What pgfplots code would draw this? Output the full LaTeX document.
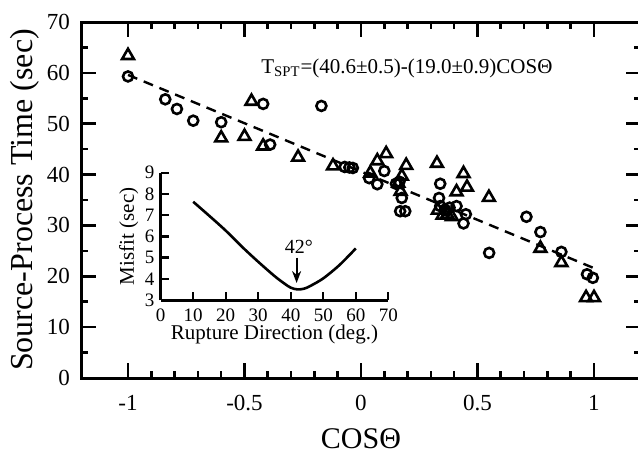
\documentclass[border=0pt]{standalone}
\usepackage{fontspec}
\setmainfont{Liberation Serif}
\usepackage{pgfplots}
\pgfplotsset{compat=1.18}
\usetikzlibrary{arrows.meta}

\begin{document}
\begin{tikzpicture}
% main panel
\begin{axis}[
    at={(0pt,0pt)}, anchor=south west,
    scale only axis, width=279.6pt, height=178pt,
    xmin=-1.2, xmax=1.2, ymin=0, ymax=70,
    xtick={-1,-0.5,0,0.5,1},
    xticklabels={-1,-0.5,0,0.5,1},
    minor x tick num=4,
    ytick={0,10,...,70},
    minor y tick num=1,
    tick align=inside,
    major tick length=7.5pt, minor tick length=3.5pt,
    every tick/.style={black, line width=1.3pt},
    axis line style={line width=1.5pt},
    /pgf/number format/assume math mode=true,
    xticklabel style={font=\fontsize{11.5}{13}\selectfont, anchor=center, yshift=-12.5pt},
    yticklabel style={font=\fontsize{11.5}{13}\selectfont, anchor=east, inner sep=0pt, xshift=-5.5pt},
    xlabel={COSΘ}, ylabel={Source-Process Time (sec)},
    xlabel style={font=\fontsize{15}{17}\selectfont, at={(axis description cs:0.5,-0.171)}, anchor=center},
    ylabel style={font=\fontsize{16}{18}\selectfont, at={(axis description cs:-0.102,0.5)}, anchor=center},
]
% regression line
\addplot[black, line width=1.2pt, dash pattern=on 5pt off 3.5pt] coordinates {(-1,59.6) (1,21.6)};

% circles
\addplot[only marks, mark=o, mark size=2.5pt, line width=1.3pt] coordinates {
    (-1.00,59.3) (-0.84,54.8) (-0.79,52.9) (-0.72,50.6) (-0.60,50.3)
    (-0.42,53.9) (-0.39,45.9) (-0.17,53.5) (-0.07,41.5) (-0.05,41.4)
    (-0.035,41.3) (0.035,39.3) (0.07,38.1) (0.10,40.7) (0.165,38.6)
    (0.15,38.2) (0.175,35.4) (0.168,32.8) (0.19,32.8) (0.34,38.2)
    (0.335,35.4) (0.34,33.8) (0.36,33.1) (0.38,33.5) (0.41,33.8)
    (0.45,32.2) (0.44,30.4) (0.55,24.6) (0.71,31.7) (0.77,28.7)
    (0.86,24.8) (0.97,20.4) (0.995,19.7)
};
% triangles
\addplot[only marks, mark=triangle, mark size=3.4pt, line width=1.3pt] coordinates {
    (-1.00,63.4) (-0.60,47.2) (-0.50,47.5) (-0.47,54.4) (-0.42,45.6)
    (-0.27,43.4) (-0.12,41.7) (0.04,40.3) (0.07,42.7) (0.108,44.1)
    (0.194,41.8) (0.175,39.7) (0.16,38.3) (0.17,36.7) (0.326,42.2)
    (0.44,40.2) (0.455,37.5) (0.41,36.6) (0.549,35.5) (0.33,33.0)
    (0.35,32.0) (0.37,32.2) (0.39,31.7) (0.77,25.5) (0.86,22.7)
    (0.966,15.8) (1.00,15.8)
};

\node[anchor=base, font=\fontsize{10.5}{12}\selectfont] at (axis cs:0.197,59.9)
    {T\textsubscript{SPT}=(40.6±0.5)-(19.0±0.9)COSΘ};
\end{axis}

% inset
\begin{axis}[
    at={(39.65pt,39pt)}, anchor=south west,
    scale only axis, width=113.8pt, height=63.65pt,
    xmin=0, xmax=70, ymin=3, ymax=9,
    axis lines=left, axis line style={-, line width=1.5pt},
    xtick={0,10,...,70}, ytick={3,4,...,9},
    tick align=inside, major tick length=4pt,
    every tick/.style={black, line width=1.2pt},
    /pgf/number format/assume math mode=true,
    xticklabel style={font=\fontsize{9.5}{10}\selectfont, anchor=center, yshift=-7.5pt},
    yticklabel style={font=\fontsize{9.5}{10}\selectfont, anchor=east, inner sep=0pt, xshift=-3pt},
    xlabel={Rupture Direction (deg.)}, ylabel={Misfit (sec)},
    xlabel style={font=\fontsize{10.5}{12}\selectfont, at={(axis description cs:0.5,-0.27)}, anchor=center},
    ylabel style={font=\fontsize{10.5}{12}\selectfont, at={(axis description cs:-0.14,0.5)}, anchor=center},
]
\addplot[black, line width=1.3pt, smooth] coordinates {
    (10,7.63) (15,6.96) (20,6.27) (25,5.51) (30,4.80) (35,4.13) (38,3.78)
    (40,3.58) (42,3.50) (44,3.53) (46,3.66) (50,4.02) (55,4.65) (60,5.43)
};
\draw[-{Stealth[length=6pt,width=4.5pt]}, line width=1pt] (axis cs:41.8,5.0) -- (axis cs:41.8,3.8);
\node[anchor=base, font=\fontsize{10}{12}\selectfont] at (axis cs:42.5,5.17) {42°};
\end{axis}

\pgfresetboundingbox
\useasboundingbox (-40.7pt,-39pt) rectangle (278.3pt,189pt);
\end{tikzpicture}
\end{document}
